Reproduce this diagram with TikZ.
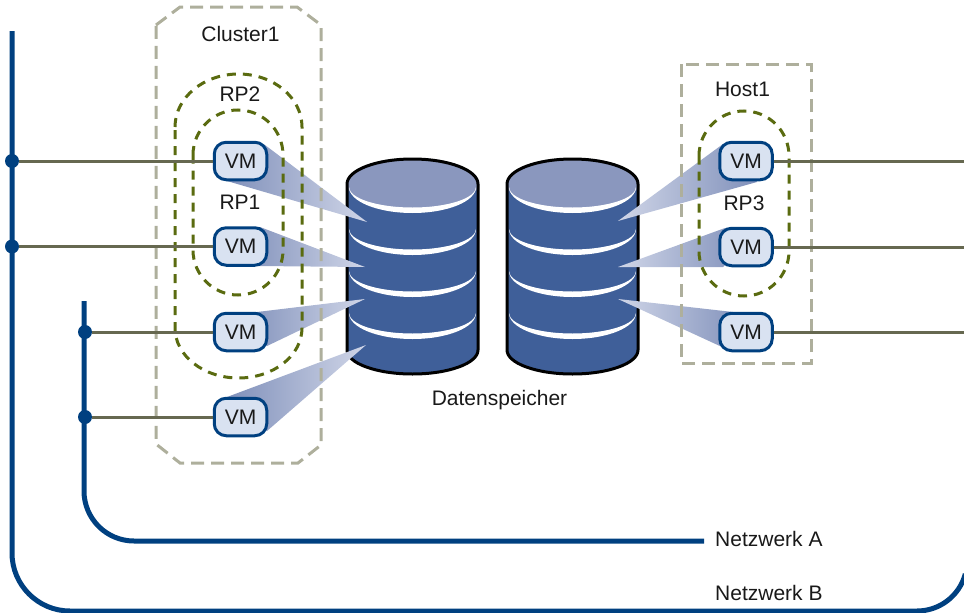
\documentclass[tikz,border=0pt]{standalone}
\usepackage{fontspec}
\setmainfont{Liberation Sans}
\definecolor{netblue}{HTML}{004080}
\definecolor{linkgray}{HTML}{666850}
\definecolor{hostgray}{HTML}{AEAF9C}
\definecolor{rpolive}{HTML}{5A6B10}
\definecolor{dbbody}{HTML}{3F5F99}
\definecolor{dbtop}{HTML}{8A97BE}
\definecolor{vmfill}{HTML}{D9E2F1}
\definecolor{fandark}{HTML}{8090BA}
\definecolor{fanlight}{HTML}{D0D6E8}
\tikzset{
  lbl/.style={font=\fontsize{21}{24}\selectfont, inner sep=0pt, text=black!90},
  vmbox/.style={draw=netblue, line width=3pt, fill=vmfill, rounded corners=12pt,
    minimum width=52.5pt, minimum height=37.5pt, inner sep=0pt,
    font=\fontsize{21}{24}\selectfont, text=black!90},
  netline/.style={draw=netblue, line width=5pt},
  link/.style={draw=linkgray, line width=3pt},
  tap/.style={circle, fill=netblue, minimum size=14pt, inner sep=0pt},
  groupbox/.style={draw=hostgray, line width=3pt, dash pattern=on 13pt off 7pt},
  rpbox/.style={draw=rpolive, line width=3pt, dash pattern=on 9pt off 7pt},
  fanL/.style={left color=fandark, right color=fanlight, draw=none},
  fanR/.style={left color=fanlight, right color=fandark, draw=none},
}
\newcommand{\dbstack}[1]{%
  \begin{scope}[shift={(#1,0)}]
    \fill[dbbody] (0,184) -- (0,350) arc[start angle=180,end angle=0,x radius=65.5,y radius=24] -- (131,184)
       arc[start angle=0,end angle=-180,x radius=65.5,y radius=25] -- cycle;
    \fill[dbtop] (65.5,184) ellipse[x radius=65.5,y radius=26];
    \foreach \yy in {187,229,271,313}{
      \fill[white] (2,\yy) arc[start angle=180,end angle=0,x radius=63.5,y radius=26]
        arc[start angle=0,end angle=180,x radius=63.5,y radius=20.5] -- cycle;
    }
    \draw[black, line width=3pt, line join=round] (0,350) -- (0,184)
       arc[start angle=180,end angle=360,x radius=65.5,y radius=25] -- (131,350)
       arc[start angle=0,end angle=180,x radius=65.5,y radius=24];
  \end{scope}%
}
\begin{document}
\begin{tikzpicture}[x=1pt,y=-1pt]
\useasboundingbox (0,0) rectangle (964,613);
\clip (0,0) rectangle (964,613);

% storage
\dbstack{347}
\dbstack{507}

% fans
\shade[fanL] (265,145) -- (367,222) -- (227,181) -- (240,161) -- cycle;
\shade[fanL] (260,227) -- (365,267) -- (257,266) -- (240,247) -- cycle;
\shade[fanL] (257,312) -- (365,299) -- (267,346) -- (240,332) -- cycle;
\shade[fanL] (227,397) -- (366,345) -- (267,431) -- (240,417) -- cycle;
\shade[fanR] (723,144) -- (618,221) -- (757,182) -- (746,161) -- cycle;
\shade[fanR] (725,228) -- (618,267) -- (723,267) -- (746,247) -- cycle;
\shade[fanR] (733,312) -- (618,299) -- (722,347) -- (746,332) -- cycle;

% networks
\coordinate (bstart) at (12,31);
\coordinate (astart) at (84,301);
\coordinate (aend) at (704,541);
\draw[netline] (bstart) -- (12,553) arc[start angle=180,end angle=90,radius=58]
   -- (917,611) arc[start angle=90,end angle=15,radius=50];
\draw[netline] (astart) -- (84,491) arc[start angle=180,end angle=90,radius=50] -- (aend);

% taps and free ends
\node[tap] (t1) at (12,161) {};
\node[tap] (t2) at (12,246.5) {};
\node[tap] (t3) at (85,332) {};
\node[tap] (t4) at (85,417) {};
\coordinate (e1) at (964,161);
\coordinate (e2) at (964,247);
\coordinate (e3) at (964,332);

% groups
\draw[groupbox] (156,25) -- (180,7) -- (297,7) -- (321,25) -- (321,445) -- (298,463) -- (180,463) -- (156,444) -- cycle;
\draw[groupbox] (681,64) rectangle (811,363);
\draw[rpbox] (175,127) arc[start angle=180,end angle=360,x radius=63.5,y radius=53]
   -- (302,328) arc[start angle=0,end angle=180,x radius=63.5,y radius=50] -- cycle;
\draw[rpbox] (193,155) arc[start angle=180,end angle=360,x radius=45,y radius=45]
   -- (283,250) arc[start angle=0,end angle=180,x radius=45,y radius=45] -- cycle;
\draw[rpbox] (699,156) arc[start angle=180,end angle=360,x radius=45,y radius=45]
   -- (789,251) arc[start angle=0,end angle=180,x radius=45,y radius=45] -- cycle;

% VMs
\node[vmbox] (v1) at (240.5,161) {VM};
\node[vmbox] (v2) at (240.5,246.5) {VM};
\node[vmbox] (v3) at (240.5,332) {VM};
\node[vmbox] (v4) at (240.5,417) {VM};
\node[vmbox] (v5) at (746,161) {VM};
\node[vmbox] (v6) at (746,247) {VM};
\node[vmbox] (v7) at (746,332) {VM};

% connectors
\draw[link] (t1) -- (v1);
\draw[link] (t2) -- (v2);
\draw[link] (t3) -- (v3);
\draw[link] (t4) -- (v4);
\draw[link] (v5) -- (e1);
\draw[link] (v6) -- (e2);
\draw[link] (v7) -- (e3);

% labels
\node[lbl] (cluster) at (240.5,34) {Cluster1};
\node[lbl] (rp2) at (240,94) {RP2};
\node[lbl] (rp1) at (240,202) {RP1};
\node[lbl] (host) at (742.5,89.5) {Host1};
\node[lbl] (rp3) at (744,203) {RP3};
\node[lbl] (ds) at (499.5,400) {Datenspeicher};
\node[lbl, anchor=west] (na) at (715,539) {Netzwerk A};
\node[lbl, anchor=west] (nb) at (715,593) {Netzwerk B};
\end{tikzpicture}
\end{document}
